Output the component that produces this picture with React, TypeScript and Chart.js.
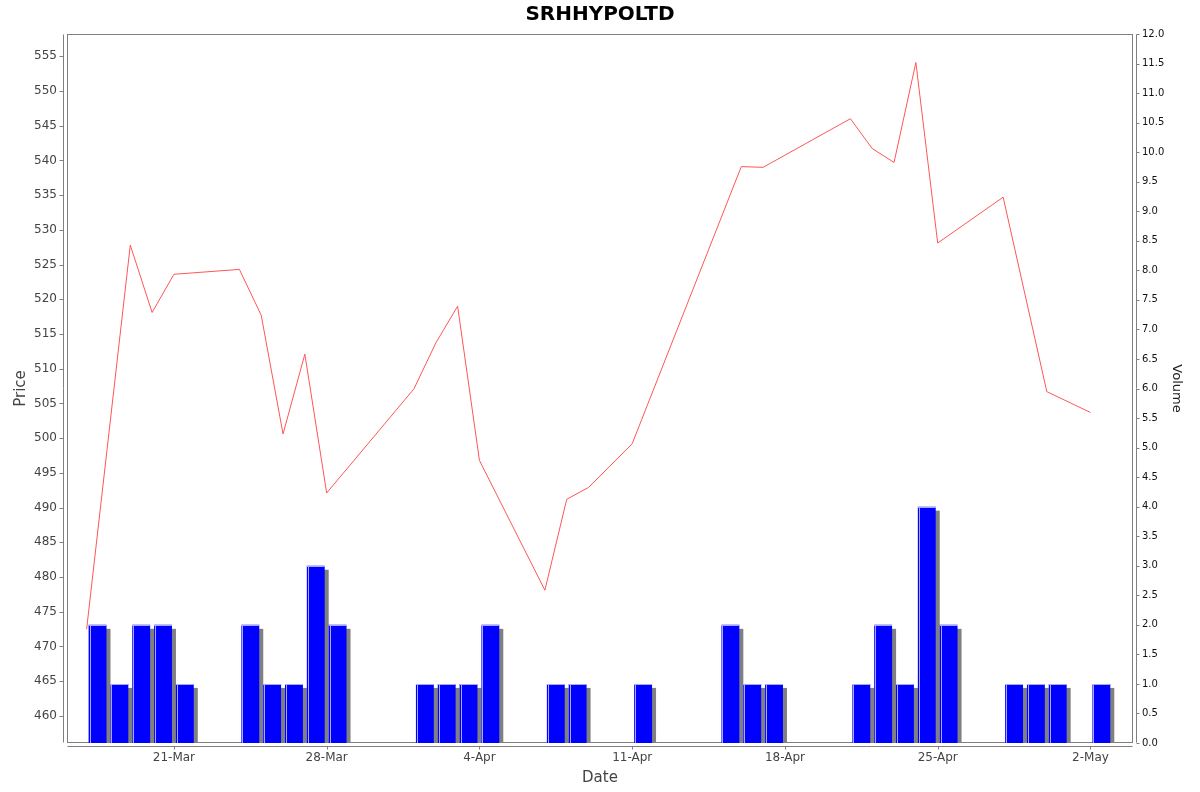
import { useEffect, useRef } from "react";
import { Chart } from "chart.js/auto";
import type { ChartConfiguration, Plugin } from "chart.js/auto";

// closing price per trading day
const priceDates = [
  "2025-03-17", "2025-03-19", "2025-03-20", "2025-03-21", "2025-03-24",
  "2025-03-25", "2025-03-26", "2025-03-27", "2025-03-28", "2025-04-01",
  "2025-04-02", "2025-04-03", "2025-04-04", "2025-04-07", "2025-04-08",
  "2025-04-09", "2025-04-11", "2025-04-16", "2025-04-17", "2025-04-21",
  "2025-04-22", "2025-04-23", "2025-04-24", "2025-04-25", "2025-04-28",
  "2025-04-30", "2025-05-02",
];
const prices = [
  472.5, 527.8, 518.1, 523.6, 524.3,
  517.7, 500.6, 512.1, 492.1, 507.1,
  513.7, 519.0, 496.8, 478.1, 491.2,
  492.9, 499.2, 539.1, 539.0, 546.0,
  541.7, 539.7, 554.1, 528.1, 534.7,
  506.7, 503.7,
];

// traded volume per day
const volumeDates = [
  "2025-03-17", "2025-03-18", "2025-03-19", "2025-03-20", "2025-03-21",
  "2025-03-24", "2025-03-25", "2025-03-26", "2025-03-27", "2025-03-28",
  "2025-04-01", "2025-04-02", "2025-04-03", "2025-04-04", "2025-04-07",
  "2025-04-08", "2025-04-11", "2025-04-15", "2025-04-16", "2025-04-17",
  "2025-04-21", "2025-04-22", "2025-04-23", "2025-04-24", "2025-04-25",
  "2025-04-28", "2025-04-29", "2025-04-30", "2025-05-02",
];
const volumes = [
  2, 1, 2, 2, 1,
  2, 1, 1, 3, 2,
  1, 1, 1, 2, 1,
  1, 1, 2, 1, 1,
  1, 2, 1, 4, 2,
  1, 1, 1, 1,
];

const dateTicks = ["2025-03-21", "2025-03-28", "2025-04-04", "2025-04-11", "2025-04-18", "2025-04-25", "2025-05-02"];
const dateTickLabels = ["21-Mar", "28-Mar", "4-Apr", "11-Apr", "18-Apr", "25-Apr", "2-May"];
const priceTicks = [460, 465, 470, 475, 480, 485, 490, 495, 500, 505, 510, 515, 520, 525, 530, 535, 540, 545, 550, 555];
const volumeTicks = [
  0, 0.5, 1, 1.5, 2, 2.5, 3, 3.5, 4, 4.5, 5, 5.5, 6,
  6.5, 7, 7.5, 8, 8.5, 9, 9.5, 10, 10.5, 11, 11.5, 12,
];

const DAY_MS = 86400000;
const toDay = (iso: string) => Date.parse(iso) / DAY_MS;

const FONT = "'DejaVu Sans', sans-serif";
const GRAY = "#808080";

// plot frame, offset axis lines and tick marks (jfreechart look)
const framePlugin: Plugin = {
  id: "frame",
  beforeDatasetsDraw(chart) {
    const { ctx, chartArea: a, scales } = chart;
    ctx.save();
    ctx.strokeStyle = GRAY;
    ctx.lineWidth = 1;
    const L = Math.round(a.left) + 0.5;
    const R = Math.round(a.right) - 0.5;
    const T = Math.round(a.top) + 0.5;
    const B = Math.round(a.bottom) - 0.5;
    ctx.strokeRect(L, T, R - L, B - T);

    ctx.beginPath();
    // left axis
    ctx.moveTo(L - 4, T);
    ctx.lineTo(L - 4, B);
    scales.y.ticks.forEach((_, i) => {
      const py = Math.round(scales.y.getPixelForTick(i)) + 0.5;
      ctx.moveTo(L - 8, py);
      ctx.lineTo(L - 4, py);
    });
    // right axis
    ctx.moveTo(R + 4, T);
    ctx.lineTo(R + 4, B);
    scales.y1.ticks.forEach((_, i) => {
      const py = Math.round(scales.y1.getPixelForTick(i)) + 0.5;
      ctx.moveTo(R + 4, py);
      ctx.lineTo(R + 7, py);
    });
    // bottom axis
    ctx.moveTo(L, B + 4);
    ctx.lineTo(R, B + 4);
    scales.x.ticks.forEach((_, i) => {
      const px = Math.round(scales.x.getPixelForTick(i)) + 0.5;
      ctx.moveTo(px, B + 4);
      ctx.lineTo(px, B + 7);
    });
    ctx.stroke();
    ctx.restore();
  },
};

// gray drop shadow behind bars, light edge on top of them
const barStylePlugin: Plugin = {
  id: "barStyle",
  beforeDatasetDraw(chart, args) {
    const meta = chart.getDatasetMeta(args.index);
    if (meta.type !== "bar") return;
    const { ctx, chartArea: a } = chart;
    ctx.save();
    ctx.beginPath();
    ctx.rect(a.left, a.top, a.right - a.left, a.bottom - a.top);
    ctx.clip();
    ctx.fillStyle = GRAY;
    meta.data.forEach((el: any) => {
      const { x, y, base, width } = el.getProps(["x", "y", "base", "width"], true);
      ctx.fillRect(x - width / 2 + 4, y + 4, width, base - y - 4);
    });
    ctx.restore();
  },
  afterDatasetDraw(chart, args) {
    const meta = chart.getDatasetMeta(args.index);
    if (meta.type !== "bar") return;
    const { ctx } = chart;
    ctx.save();
    ctx.strokeStyle = "#a8a8ff";
    ctx.lineWidth = 1;
    meta.data.forEach((el: any) => {
      const { x, y, base, width } = el.getProps(["x", "y", "base", "width"], true);
      const left = Math.round(x - width / 2);
      ctx.beginPath();
      ctx.moveTo(left + 1.5, Math.round(y));
      ctx.lineTo(left + 1.5, base);
      ctx.moveTo(left, Math.round(y) + 0.5);
      ctx.lineTo(left + width, Math.round(y) + 0.5);
      ctx.stroke();
    });
    ctx.restore();
  },
};

function PriceVolumeChart() {
  const canvasRef = useRef<HTMLCanvasElement>(null);
  const chartRef = useRef<Chart | null>(null);

  useEffect(() => {
    if (!canvasRef.current) return;
    document.body.style.margin = "0";

    if (chartRef.current) {
      chartRef.current.destroy();
    }

    const config: ChartConfiguration = {
      type: "bar",
      data: {
        datasets: [
          {
            type: "line",
            label: "Price",
            data: priceDates.map((d, i) => ({ x: toDay(d), y: prices[i] })),
            borderColor: "#ff5656",
            borderWidth: 1,
            pointRadius: 0,
            tension: 0,
            yAxisID: "y",
            xAxisID: "x",
            order: 0,
          },
          {
            type: "bar",
            label: "Volume",
            // a bar covers its whole trading day
            data: volumeDates.map((d, i) => ({ x: toDay(d) + 0.5, y: volumes[i] })),
            backgroundColor: "#0000ff",
            borderWidth: 0,
            barPercentage: 0.82,
            categoryPercentage: 1,
            yAxisID: "y1",
            xAxisID: "x",
            order: 1,
          },
        ],
      } as any,
      options: {
        responsive: false,
        animation: false,
        layout: { padding: 0 },
        font: { family: FONT },
        plugins: {
          legend: { display: false },
          tooltip: { enabled: false },
          title: {
            display: true,
            text: "SRHHYPOLTD",
            color: "#000",
            font: { family: FONT, size: 20, weight: "bold" },
            padding: { top: 3, bottom: 7 },
          },
        },
        scales: {
          x: {
            type: "linear",
            position: "bottom",
            offset: false,
            min: toDay("2025-03-16") + 0.1,
            max: toDay("2025-05-03") + 0.95,
            grid: { display: false, drawTicks: false, offset: false },
            border: { display: false },
            afterBuildTicks: (scale: any) => {
              scale.ticks = dateTicks.map((d) => ({ value: toDay(d) }));
            },
            afterFit: (scale: any) => {
              scale.height = 49;
            },
            ticks: {
              autoSkip: false,
              maxRotation: 0,
              padding: 8,
              color: "#444",
              font: { family: FONT, size: 12 },
              callback: (_v: any, i: number) => dateTickLabels[i],
            },
            title: {
              display: true,
              text: "Date",
              color: "#444",
              font: { family: FONT, size: 15 },
              padding: 5,
            },
          },
          y: {
            type: "linear",
            position: "left",
            min: 456.1,
            max: 558.2,
            grid: { display: false, drawTicks: false },
            border: { display: false },
            afterBuildTicks: (scale: any) => {
              scale.ticks = priceTicks.map((v) => ({ value: v }));
            },
            afterFit: (scale: any) => {
              scale.width = 67;
            },
            ticks: {
              padding: 10,
              color: "#444",
              font: { family: FONT, size: 12 },
              callback: (v: any) => String(v),
            },
            title: {
              display: true,
              text: "Price",
              color: "#444",
              font: { family: FONT, size: 15 },
              padding: 12,
            },
          },
          y1: {
            type: "linear",
            position: "right",
            min: 0,
            max: 12,
            grid: { display: false, drawTicks: false },
            border: { display: false },
            afterBuildTicks: (scale: any) => {
              scale.ticks = volumeTicks.map((v) => ({ value: v }));
            },
            afterFit: (scale: any) => {
              scale.width = 67;
            },
            ticks: {
              padding: 9,
              color: "#111",
              font: { family: FONT, size: 10 },
              callback: (v: any) => Number(v).toFixed(1),
            },
            title: {
              display: true,
              text: "Volume",
              color: "#222",
              font: { family: FONT, size: 13 },
              padding: 16,
            },
          },
        },
      },
      plugins: [framePlugin, barStylePlugin],
    };

    chartRef.current = new Chart(canvasRef.current, config);

    return () => {
      if (chartRef.current) {
        chartRef.current.destroy();
        chartRef.current = null;
      }
    };
  }, []);

  return (
    <div style={{ position: "fixed", left: 0, top: 0, width: 1200, height: 792, background: "#fff" }}>
      <canvas ref={canvasRef} width={1200} height={792}></canvas>
    </div>
  );
}

export default function App() {
  return <PriceVolumeChart />;
}
